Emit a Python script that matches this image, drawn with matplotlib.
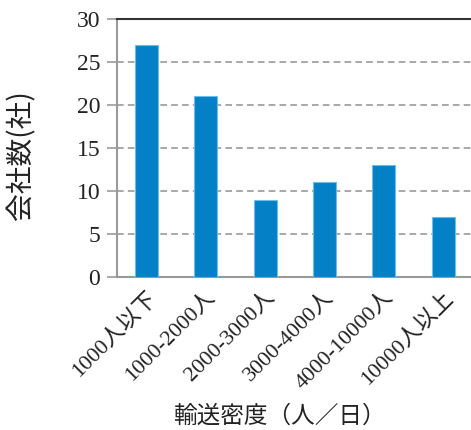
import matplotlib
matplotlib.use("Agg")
import matplotlib.pyplot as plt

categories = ["1000人以下", "1000-2000人", "2000-3000人", "3000-4000人", "4000-10000人", "10000人以上"]
companies = [27, 21, 9, 11, 13, 7]
yticks = [0, 5, 10, 15, 20, 25, 30]

fam = ["Liberation Serif", "Noto Sans CJK JP"]
plt.rcParams["font.family"] = fam

fig = plt.figure(figsize=(4.71, 4.30), dpi=100)
ax = fig.add_axes([0.248, 0.356, 0.756, 0.600])

x = list(range(len(categories)))
ax.bar(x, companies, width=0.39, color="#0481C6", edgecolor="#6CBDE8", linewidth=0.8, zorder=3)

ax.set_xlim(-0.5, len(categories) - 0.5)
ax.set_ylim(0, 30)
ax.set_yticks(yticks)
ax.set_yticklabels([str(v) for v in yticks], fontsize=17, color="#222222")
ax.set_xticks(x)
ax.set_xticklabels(categories, fontsize=16, rotation=45, ha="right",
                   rotation_mode="anchor", color="#222222")

for v in yticks[1:-1]:
    ax.axhline(v, color="#999999", linestyle=(0, (4, 2.5)), linewidth=1.2, zorder=1)

ax.tick_params(axis="y", direction="out", length=7, width=1.2, color="#999999", pad=5)
ax.tick_params(axis="x", length=0, pad=8)

ax.spines["left"].set_color("#999999")
ax.spines["left"].set_linewidth(1.5)
ax.spines["bottom"].set_color("#999999")
ax.spines["bottom"].set_linewidth(1.5)
ax.spines["top"].set_color("#333333")
ax.spines["top"].set_linewidth(1.5)
ax.spines["right"].set_visible(False)

fig.text(0.045, 0.64, "会社数(社)", fontsize=20, family="Noto Sans CJK JP",
         rotation=90, ha="center", va="center", color="#222222")
fig.text(0.593, 0.033, "輸送密度（人／日）", fontsize=17, family="Noto Sans CJK JP",
         ha="center", va="center", color="#222222")

fig.savefig("out.png", dpi=100)
